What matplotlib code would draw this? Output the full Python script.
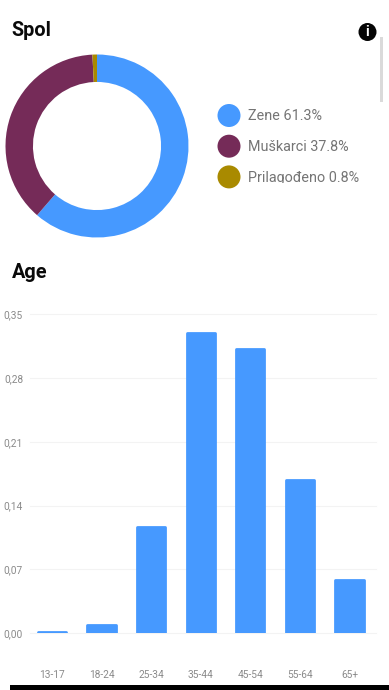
import matplotlib
matplotlib.use("Agg")
import matplotlib.pyplot as plt
from matplotlib.patches import Circle, Rectangle
from matplotlib.transforms import Bbox

plt.rcParams['font.family'] = ['Roboto', 'DejaVu Sans']

gender_labels = ['Zene', 'Muškarci', 'Prilagođeno']
gender_values = [61.3, 37.8, 0.8]
gender_colors = ['#4699FF', '#752B58', '#A98A00']

age_labels = ['13-17', '18-24', '25-34', '35-44', '45-54', '55-64', '65+']
age_values = [0.001, 0.009, 0.1165, 0.3295, 0.312, 0.1685, 0.0585]
y_ticks = [0.00, 0.07, 0.14, 0.21, 0.28, 0.35]

W, H = 389, 690
fig = plt.figure(figsize=(W / 100, H / 100), dpi=100, facecolor='white')


def axes_px(x0, y0, x1, y1, **kw):
    return fig.add_axes([x0 / W, 1 - y1 / H, (x1 - x0) / W, (y1 - y0) / H], **kw)


# Donut
ax_pie = axes_px(5.5, 54.5, 188.5, 237.5)
ax_pie.pie(gender_values, colors=gender_colors, startangle=90, counterclock=False,
           radius=1, wedgeprops=dict(width=0.30, linewidth=0))
ax_pie.set_xlim(-1, 1)
ax_pie.set_ylim(-1, 1)
ax_pie.set_aspect('equal')

# Bars
ax = axes_px(30, 314.2, 376, 633.2)
ax.set_xlim(-0.443, 6.535)
ax.set_ylim(0, 0.35)
ax.set_axisbelow(True)
ax.yaxis.grid(True, color='#F3F3F3', lw=0.8)
for gl in ax.yaxis.get_gridlines():
    gl.set_clip_on(False)
ax.xaxis.grid(False)
for s in ax.spines.values():
    s.set_visible(False)
xs = list(range(len(age_labels)))
bars = ax.bar(xs, age_values, width=0.568, color=gender_colors[0],
              edgecolor=gender_colors[0], linewidth=2.0, joinstyle='round')
ax.set_xticks(xs, age_labels)
ax.set_yticks(y_ticks, [f'{v:.2f}'.replace('.', ',') for v in y_ticks])
ax.tick_params(axis='both', length=0, labelsize=7.3, labelcolor='#8A8A8A')
ax.tick_params(axis='x', pad=26.5)
ax.tick_params(axis='y', pad=5)

# Overlay in pixel coordinates
ov = fig.add_axes([0, 0, 1, 1], facecolor='none')
ov.set_xlim(0, W)
ov.set_ylim(H, 0)
ov.axis('off')
ov.text(11.5, 30, 'Spol', fontsize=14.3, fontweight='bold', color='#0A0A0A', va='center')
ov.text(11.5, 272, 'Age', fontsize=14.3, fontweight='bold', color='#0A0A0A', va='center')

for i, (name, val, col) in enumerate(zip(gender_labels, gender_values, gender_colors)):
    y = 115.5 + 30.7 * i
    ov.add_patch(Circle((229, y), 11.5, fc=col, ec='none'))
    t = ov.text(248, y + 0.7, f'{name} {val}%', fontsize=10.4, color='#757575', va='center')
    if i == 2:
        x0, y0 = fig.transFigure.transform((240 / W, 1 - (y + 6.5) / H))
        x1, y1 = fig.transFigure.transform((1, 1 - (y - 12) / H))
        t.set_clip_on(True)
        t.set_clip_box(Bbox([[x0, y0], [x1, y1]]))

# Info icon and scrollbar
ov.add_patch(Circle((367.5, 32), 9, fc='#050505', ec='none'))
ov.text(367.5, 32, 'i', fontsize=10, fontweight='bold', color='white', ha='center', va='center')
ov.add_patch(Rectangle((380.5, 37), 2.5, 65, fc='#DADADA', ec='none'))
# Black navigation strip
ov.add_patch(Rectangle((10, 685), 379, 5, fc='black', ec='none'))

fig.savefig('out.png', dpi=100, facecolor='white')
